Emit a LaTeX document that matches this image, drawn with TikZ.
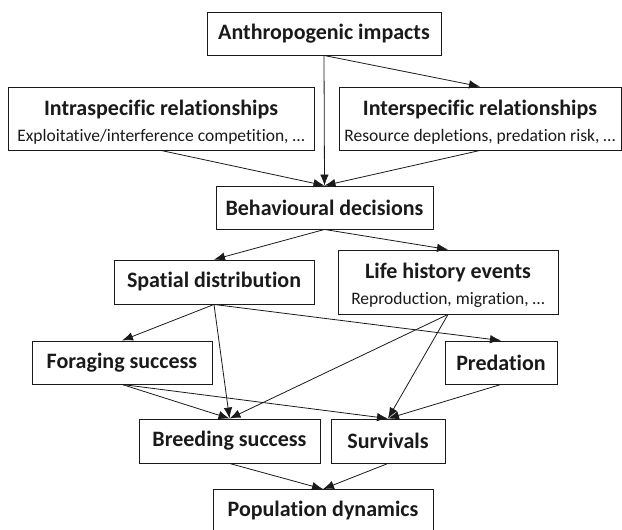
\documentclass[tikz,border=0pt]{standalone}
\usepackage{fontspec}
\setmainfont{Carlito}[Ligatures=NoCommon]
\usetikzlibrary{arrows.meta,positioning}
\definecolor{ink}{HTML}{1A1A1A}
\tikzset{
  >={Latex[length=11pt,width=8.5pt]},
  every node/.style={text=ink},
  box/.style={draw=ink,line width=0.9pt,inner sep=0pt,minimum height=43pt,
    font=\fontsize{22}{26}\selectfont\bfseries},
  twobox/.style={box,align=center,minimum height=63pt},
  arrow/.style={->,line width=0.8pt,draw=ink},
}
\newcommand{\subline}[1]{{\fontsize{17.5}{26}\selectfont\mdseries #1}}
\newcommand{\topstrut}{\rule{0pt}{22.5pt}}

\begin{document}
\begin{tikzpicture}[x=1pt,y=-1pt]
\useasboundingbox (0,0) rectangle (622,530);

\node[box,minimum width=234pt] (anthro) at (324,33.5) {Anthropogenic impacts};
\node[twobox,minimum width=306pt] (intra) at (161,118.5) {\topstrut Intraspecific relationships\\\subline{Exploitative/interference competition, …}};
\node[twobox,minimum width=282pt] (inter) at (480,118.5) {\topstrut Interspecific relationships\\\subline{Resource depletions, predation risk, …}};
\node[box,minimum width=217pt] (behav) at (324.5,207.5) {Behavioural decisions};
\node[box,minimum width=200pt,minimum height=44pt] (spatial) at (214,282) {Spatial distribution};
\node[twobox,minimum width=220pt,minimum height=64pt] (life) at (448,282) {\topstrut Life history events\\\subline{Reproduction, migration, …}};
\node[box,minimum width=180pt] (forage) at (122,362.5) {Foraging success};
\node[box,minimum width=112pt] (pred) at (501,362.5) {Predation};
\node[box,minimum width=181pt,minimum height=44pt] (breed) at (229.5,441) {Breeding success};
\node[box,minimum width=114pt,minimum height=44pt] (surv) at (388,441) {Survivals};
\node[box,minimum width=220pt] (popdyn) at (323,511) {Population dynamics};

\draw[arrow] (anthro.south) -- (behav.north);
\draw[arrow] (anthro.south) -- (inter.north);
\draw[arrow] (intra.south) -- (behav.north);
\draw[arrow] (inter.south) -- (behav.north);
\draw[arrow] (behav.south) -- (spatial.north);
\draw[arrow] (behav.south) -- (life.north);
\draw[arrow] (spatial.south) -- (forage.north);
\draw[arrow] (spatial.south) -- (breed.north);
\draw[arrow] (spatial.south) -- (pred.north);
\draw[arrow] (life.south) -- (breed.north);
\draw[arrow] (life.south) -- (surv.north);
\draw[arrow] (forage.south) -- (breed.north);
\draw[arrow] (forage.south) -- (surv.north);
\draw[arrow] (pred.south) -- (surv.north);
\draw[arrow] (breed.south) -- (popdyn.north);
\draw[arrow] (surv.south) -- (popdyn.north);

\end{tikzpicture}
\end{document}
